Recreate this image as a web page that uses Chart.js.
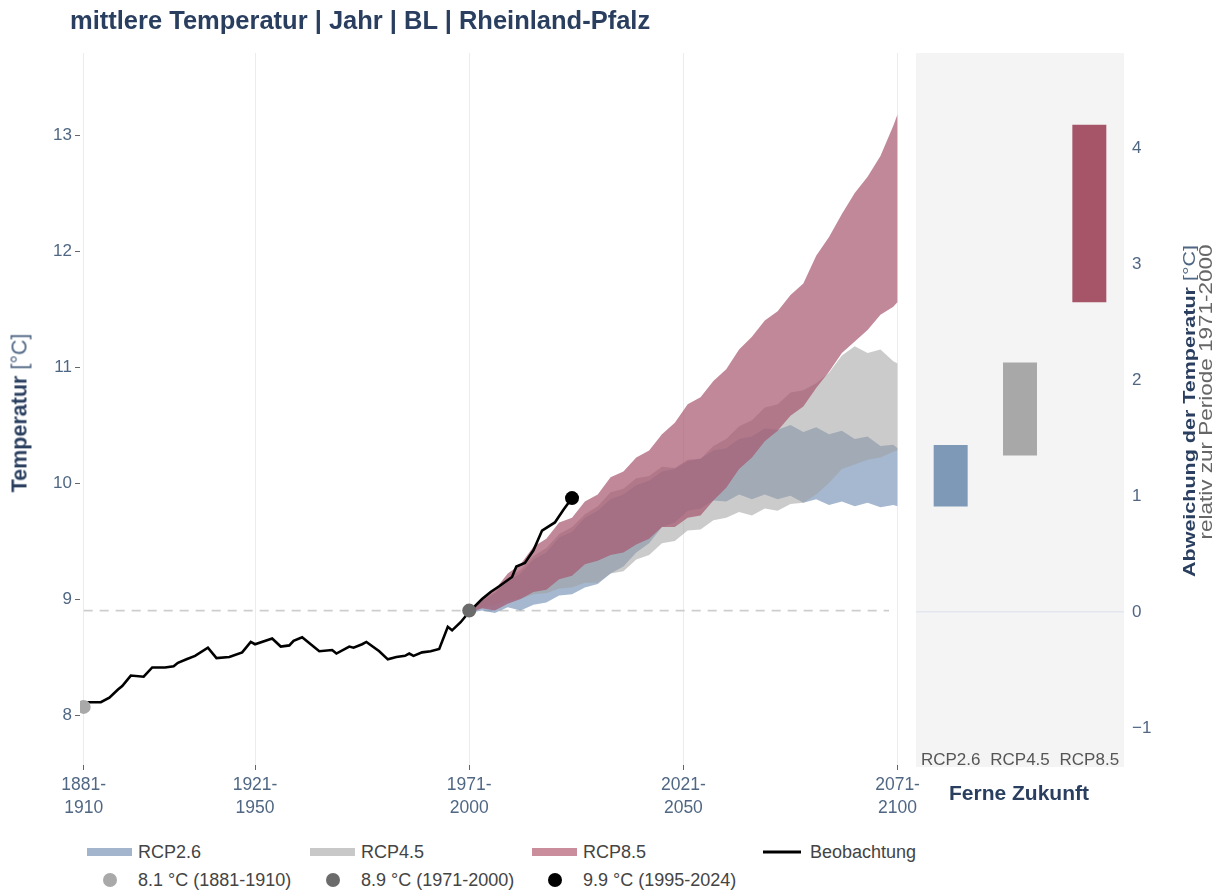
<!DOCTYPE html>
<html>
<head>
<meta charset="utf-8">
<script src="https://cdn.jsdelivr.net/npm/chart.js@4.4.1/dist/chart.umd.min.js"></script>
<style>
  body { margin: 0; background: #fff; font-family: "Liberation Sans", Arial, sans-serif; }
  #wrap { position: relative; width: 1222px; height: 892px; overflow: hidden; }
  canvas { position: absolute; top: 0; }
  #main { left: 0; }
  #side { left: 905px; }
  .txt { position: absolute; white-space: nowrap; }
  .rot { transform: translate(-50%, -50%) rotate(-90deg); }
  .rotn { transform: translate(-50%, -50%) rotate(-90deg) scaleY(0.78); }
  #title { left: 70px; top: 6px; font-size: 25.5px; font-weight: bold; color: #2a3f5f; }
  .axt { font-size: 21.5px; color: #2a3f5f; }
  .axt span { color: #506784; font-weight: normal; }
  .sub { font-size: 22.5px; color: #666; }
  #zuk { left: 1019px; top: 793px; transform: translate(-50%, -50%); font-size: 21px; font-weight: bold; color: #2a3f5f; }
  .leg { font-size: 18px; color: #444; transform: translateY(-50%); }
  .sw { position: absolute; height: 8px; width: 45px; transform: translateY(-50%); }
  .dot { position: absolute; width: 14px; height: 14px; border-radius: 50%; transform: translate(-50%, -50%); }
</style>
</head>
<body>
<div id="wrap">
  <canvas id="main" width="930" height="830"></canvas>
  <canvas id="side" width="317" height="830"></canvas>
  <div id="title" class="txt">mittlere Temperatur | Jahr | BL | Rheinland-Pfalz</div>
  <div class="txt rot axt" style="left:20px; top:413px;"><b>Temperatur</b> <span>[°C]</span></div>
  <div class="txt rotn axt" style="left:1190px; top:411px;"><b>Abweichung der Temperatur</b> <span>[°C]</span></div>
  <div class="txt rotn sub" style="left:1207px; top:392px;">relativ zur Periode 1971-2000</div>
  <div id="zuk" class="txt">Ferne Zukunft</div>
  <div id="legend"></div>
</div>
<script>
// Beobachtung: gleitendes 30-Jahres-Mittel (x = Anfangsjahr der Periode)
const obsYears = [1881, 1882, 1885, 1887, 1889, 1890, 1892, 1895, 1897, 1900, 1902, 1903, 1905, 1907, 1910,
  1912, 1915, 1918, 1920, 1921, 1925, 1927, 1929, 1930, 1932, 1934, 1936, 1939, 1940, 1943, 1944, 1946,
  1947, 1950, 1952, 1954, 1956, 1957, 1958, 1960, 1962, 1964, 1966, 1967, 1969, 1971, 1974, 1976, 1978,
  1981, 1982, 1984, 1986, 1988, 1991, 1993, 1995];
const obsValues = [8.09, 8.11, 8.11, 8.15, 8.22, 8.25, 8.34, 8.33, 8.41, 8.41, 8.42, 8.45, 8.48, 8.51, 8.58,
  8.49, 8.50, 8.54, 8.63, 8.61, 8.66, 8.59, 8.60, 8.64, 8.67, 8.61, 8.55, 8.56, 8.53, 8.59, 8.58, 8.61,
  8.63, 8.55, 8.48, 8.50, 8.51, 8.53, 8.51, 8.54, 8.55, 8.57, 8.76, 8.73, 8.80, 8.89, 9.00, 9.06, 9.11,
  9.19, 9.28, 9.31, 9.42, 9.59, 9.66, 9.77, 9.87];

// Referenzpunkte
const markerYears = [1881, 1971, 1995];
const markerValues = [8.07, 8.9, 9.87];
const markerColors = ['#a9a9a9', '#6b6b6b', '#000000'];
const markerLabels = ['8.1 °C (1881-1910)', '8.9 °C (1971-2000)', '9.9 °C (1995-2024)'];
const refTemp = 8.9;

// Szenarien-Bandbreiten
const bandYears = [1971, 1974, 1977, 1980, 1983, 1986, 1989, 1992, 1995, 1998, 2001, 2004, 2007, 2010,
  2013, 2016, 2019, 2022, 2025, 2028, 2031, 2034, 2037, 2040, 2043, 2046, 2049, 2052, 2055, 2058, 2061,
  2064, 2067, 2070, 2071];
const rcp85Upper = [8.90, 9.01, 9.08, 9.22, 9.30, 9.45, 9.52, 9.66, 9.70, 9.84, 9.90, 10.05, 10.10, 10.22,
  10.28, 10.42, 10.52, 10.68, 10.74, 10.88, 10.98, 11.15, 11.26, 11.40, 11.48, 11.62, 11.72, 11.96, 12.12,
  12.32, 12.50, 12.64, 12.82, 13.08, 13.18];
const rcp85Lower = [8.88, 8.92, 8.90, 8.96, 9.00, 9.06, 9.08, 9.17, 9.20, 9.30, 9.33, 9.38, 9.40, 9.47,
  9.52, 9.62, 9.62, 9.70, 9.72, 9.85, 9.96, 10.12, 10.22, 10.36, 10.45, 10.58, 10.66, 10.82, 10.96,
  11.12, 11.22, 11.32, 11.45, 11.52, 11.56];
const rcp45Upper = [8.90, 9.00, 9.06, 9.18, 9.25, 9.37, 9.44, 9.56, 9.62, 9.73, 9.80, 9.92, 9.95, 10.04,
  10.06, 10.14, 10.13, 10.20, 10.21, 10.32, 10.38, 10.49, 10.54, 10.65, 10.68, 10.78, 10.80, 10.86, 10.95,
  11.10, 11.18, 11.12, 11.15, 11.05, 11.03];
const rcp45Lower = [8.88, 8.93, 8.95, 8.99, 9.00, 9.04, 9.05, 9.09, 9.10, 9.14, 9.14, 9.22, 9.24, 9.34,
  9.38, 9.48, 9.50, 9.59, 9.60, 9.68, 9.70, 9.75, 9.72, 9.78, 9.76, 9.82, 9.83, 9.90, 10.00, 10.12,
  10.16, 10.20, 10.22, 10.27, 10.28];
const rcp26Upper = [8.90, 8.98, 9.05, 9.15, 9.22, 9.34, 9.40, 9.53, 9.58, 9.70, 9.76, 9.86, 9.90, 9.98,
  10.02, 10.10, 10.12, 10.19, 10.21, 10.28, 10.30, 10.38, 10.40, 10.47, 10.46, 10.50, 10.44, 10.48, 10.42,
  10.45, 10.38, 10.40, 10.32, 10.33, 10.30];
const rcp26Lower = [8.88, 8.90, 8.88, 8.93, 8.90, 8.95, 8.97, 9.03, 9.04, 9.10, 9.13, 9.22, 9.28, 9.40,
  9.48, 9.62, 9.66, 9.76, 9.78, 9.85, 9.84, 9.90, 9.86, 9.90, 9.86, 9.89, 9.83, 9.86, 9.81, 9.84, 9.80,
  9.83, 9.79, 9.81, 9.80];

// Achsen
const tickYears = [1881, 1921, 1971, 2021, 2071];
const tickLabels = [['1881-', '1910'], ['1921-', '1950'], ['1971-', '2000'], ['2021-', '2050'], ['2071-', '2100']];
const tempTicks = [8, 9, 10, 11, 12, 13];

// Ferne Zukunft (2071-2100), Abweichung zu 1971-2000
const scenarios = ['RCP2.6', 'RCP4.5', 'RCP8.5'];
const changeLow = [0.91, 1.35, 2.67];
const changeHigh = [1.44, 2.15, 4.2];
const changeTicks = [-1, 0, 1, 2, 3, 4];

const bandFill = ['rgba(105,137,175,0.6)', 'rgba(160,160,160,0.55)', 'rgba(166,86,111,0.7)'];
const legendSwatch = ['#a3b5cc', '#c8c8c8', '#c98d9c'];
const barColors = ['#7e98b8', '#a8a8a8', '#a65468'];

Chart.defaults.font.family = '"Liberation Sans", Arial, sans-serif';

function pts(xs, ys) {
  return xs.map((x, i) => ({ x: x, y: ys[i] }));
}
function band(upper, lower, color, ord) {
  return [
    { data: pts(bandYears, upper), fill: '+1', backgroundColor: color, borderColor: 'rgba(0,0,0,0)',
      borderWidth: 0, pointRadius: 0, order: ord },
    { data: pts(bandYears, lower), fill: false, borderColor: 'rgba(0,0,0,0)',
      borderWidth: 0, pointRadius: 0, order: ord }
  ];
}

new Chart(document.getElementById('main'), {
  type: 'line',
  data: {
    datasets: [
      { label: 'Beobachtung', data: pts(obsYears, obsValues), borderColor: '#000', borderWidth: 2.6,
        pointRadius: 0, fill: false, order: 1 },
      { label: 'Marker', data: pts(markerYears, markerValues), showLine: false, pointRadius: 7,
        pointBackgroundColor: markerColors, pointBorderWidth: 0, order: 0 },
      ...band(rcp85Upper, rcp85Lower, bandFill[2], 3),
      ...band(rcp45Upper, rcp45Lower, bandFill[1], 4),
      ...band(rcp26Upper, rcp26Lower, bandFill[0], 5),
      { data: [{ x: 1881, y: refTemp }, { x: 2069, y: refTemp }], borderColor: '#cdcdcd', borderDash: [9, 7],
        borderWidth: 1.6, pointRadius: 0, fill: false, order: 6 }
    ]
  },
  options: {
    responsive: false,
    animation: false,
    devicePixelRatio: 1,
    layout: { padding: { top: 53, right: 29, left: 0, bottom: 0 } },
    plugins: { legend: { display: false }, tooltip: { enabled: false } },
    scales: {
      x: {
        type: 'linear', min: 1880.14, max: 2071.8,
        afterBuildTicks: s => { s.ticks = tickYears.map(v => ({ value: v })); },
        afterFit: s => { s.height = 65; s.paddingLeft = 0; s.paddingRight = 0; },
        grid: { color: '#eaecf1', tickColor: '#666', tickLength: 5 },
        border: { display: false },
        ticks: { color: '#506784', font: { size: 17.5, lineHeight: 1.35 }, padding: 3, maxRotation: 0, autoSkip: false,
          callback: v => tickLabels[tickYears.indexOf(v)] }
      },
      y: {
        min: 7.569, max: 13.707,
        afterBuildTicks: s => { s.ticks = tempTicks.map(v => ({ value: v })); },
        afterFit: s => { s.width = 80; },
        grid: { drawOnChartArea: false, tickColor: '#666', tickLength: 5 },
        border: { display: false },
        ticks: { color: '#506784', font: { size: 17 }, padding: 3 }
      }
    }
  }
});

// grauer Hintergrund fuer das Zukunfts-Panel
const panelBg = {
  id: 'panelBg',
  beforeDraw(chart) {
    const { ctx, chartArea: a } = chart;
    ctx.save();
    ctx.fillStyle = '#f4f4f4';
    ctx.fillRect(a.left, a.top, a.right - a.left, a.bottom - a.top + 29);
    ctx.restore();
  }
};

new Chart(document.getElementById('side'), {
  type: 'bar',
  data: {
    labels: scenarios,
    datasets: [{
      data: scenarios.map((s, i) => [changeLow[i], changeHigh[i]]),
      backgroundColor: barColors, barPercentage: 0.49, categoryPercentage: 1
    }]
  },
  options: {
    responsive: false,
    animation: false,
    devicePixelRatio: 1,
    layout: { padding: { top: 53, left: 11, right: 0, bottom: 0 } },
    plugins: { legend: { display: false }, tooltip: { enabled: false } },
    scales: {
      x: {
        grid: { display: false }, border: { display: false },
        afterFit: s => { s.height = 92; },
        ticks: { color: '#555', font: { size: 17 }, padding: 4 }
      },
      y: {
        position: 'right', min: -1.086, max: 4.819,
        afterBuildTicks: s => { s.ticks = changeTicks.map(v => ({ value: v })); },
        afterFit: s => { s.width = 98; },
        grid: { color: c => (c.tick && c.tick.value === 0) ? '#e2e6ee' : 'rgba(0,0,0,0)', drawTicks: false, lineWidth: 1.5 },
        border: { display: false },
        ticks: { color: '#506784', font: { size: 17 }, padding: 8,
          callback: v => v < 0 ? '\u2212' + Math.abs(v) : String(v) }
      }
    }
  },
  plugins: [panelBg]
});

// Legende
const legend = document.getElementById('legend');
const row1 = 852, row2 = 880;
const swLeft = [87, 310, 532];
scenarios.forEach((s, i) => {
  legend.insertAdjacentHTML('beforeend',
    '<div class="sw" style="left:' + swLeft[i] + 'px; top:' + row1 + 'px; background:' + legendSwatch[i] + '"></div>' +
    '<div class="txt leg" style="left:' + (swLeft[i] + 51) + 'px; top:' + row1 + 'px;">' + s + '</div>');
});
legend.insertAdjacentHTML('beforeend',
  '<div class="sw" style="left:763px; top:' + row1 + 'px; height:3px; width:38px; background:#000"></div>' +
  '<div class="txt leg" style="left:810px; top:' + row1 + 'px;">Beobachtung</div>');
markerLabels.forEach((m, i) => {
  legend.insertAdjacentHTML('beforeend',
    '<div class="dot" style="left:' + (swLeft[i] + 23) + 'px; top:' + row2 + 'px; background:' + markerColors[i] + '"></div>' +
    '<div class="txt leg" style="left:' + (swLeft[i] + 51) + 'px; top:' + row2 + 'px;">' + m + '</div>');
});
</script>
</body>
</html>
